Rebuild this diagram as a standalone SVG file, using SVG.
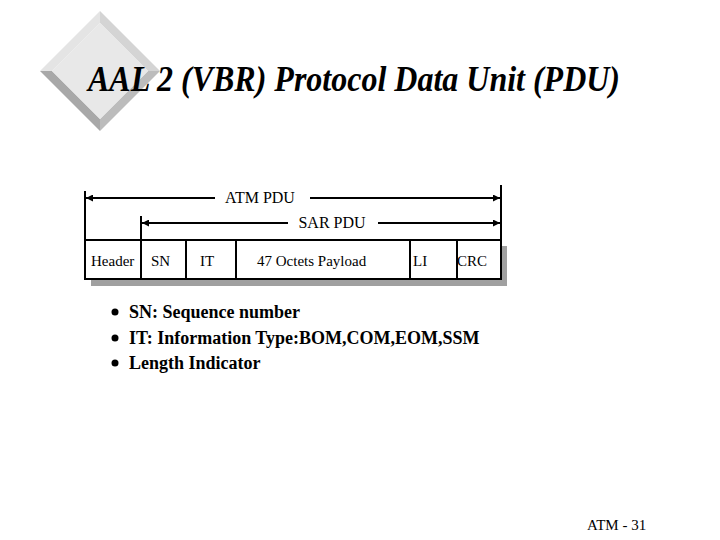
<svg xmlns="http://www.w3.org/2000/svg" width="720" height="540" viewBox="0 0 720 540">
<style>
.serif{font-family:"Liberation Serif","Times New Roman",serif;fill:#000}
.cell{font-size:15px}
.lbl{font-size:16px}
.bul{font-size:18px;font-weight:bold}
.ln{stroke:#000;stroke-width:2;fill:none}
</style>
<defs>
<marker id="ah" viewBox="0 0 10 10" refX="10" refY="5" markerWidth="11" markerHeight="7" markerUnits="userSpaceOnUse" orient="auto-start-reverse">
<path d="M0,0 L10,5 L0,10 Z" fill="#000"/>
</marker>
</defs>
<rect width="720" height="540" fill="#fff"/>
<g id="logo">
<polygon points="100,11 160,71 148,71 100,23" fill="#d4d4d4"/>
<polygon points="100,11 100,23 52,71 40,71" fill="#e4e4e4"/>
<polygon points="40,71 52,71 100,119 100,131" fill="#a8a8a8"/>
<polygon points="160,71 100,131 100,119 148,71" fill="#bcbcbc"/>
<polygon points="100,23 148,71 100,119 52,71" fill="#e8e8e8"/>
</g>
<text id="title" class="serif" x="88" y="91" font-size="35" font-weight="bold" font-style="italic" textLength="532" lengthAdjust="spacingAndGlyphs">AAL 2 (VBR) Protocol Data Unit (PDU)</text>
<g id="pdu-table">
<rect x="91" y="246" width="416" height="40" fill="#a0a0a0"/>
<rect x="85" y="240" width="416" height="39" fill="#fff" stroke="#000" stroke-width="2"/>
<path class="ln" d="M141,240 V279 M186,240 V279 M236,240 V279 M410,240 V279 M457,240 V279"/>
<text class="serif cell" x="91" y="266">Header</text>
<text class="serif cell" x="151" y="266">SN</text>
<text class="serif cell" x="200" y="266">IT</text>
<text class="serif cell" x="257" y="266">47 Octets Payload</text>
<text class="serif cell" x="413" y="266">LI</text>
<text class="serif cell" x="457" y="266">CRC</text>
</g>
<g id="connectors">
<path class="ln" d="M85,191 V240 M501,185 V240 M141,216 V240"/>
<line class="ln" x1="215" y1="198" x2="86" y2="198" marker-end="url(#ah)"/>
<line class="ln" x1="310" y1="198" x2="500" y2="198" marker-end="url(#ah)"/>
<line class="ln" x1="288" y1="223" x2="142" y2="223" marker-end="url(#ah)"/>
<line class="ln" x1="378" y1="223" x2="500" y2="223" marker-end="url(#ah)"/>
</g>
<text id="atm-pdu" class="serif lbl" x="260" y="203" text-anchor="middle">ATM PDU</text>
<text id="sar-pdu" class="serif lbl" x="332" y="228" text-anchor="middle">SAR PDU</text>
<g id="bullets">
<circle cx="115" cy="312" r="3.5" fill="#000"/>
<circle cx="115" cy="338" r="3.5" fill="#000"/>
<circle cx="115" cy="363" r="3.5" fill="#000"/>
<text class="serif bul" x="129" y="318">SN: Sequence number</text>
<text class="serif bul" x="129" y="344">IT: Information Type:BOM,COM,EOM,SSM</text>
<text class="serif bul" x="129" y="369">Length Indicator</text>
</g>
<text id="footer" class="serif" x="587" y="530" font-size="15">ATM -  31</text>
</svg>
